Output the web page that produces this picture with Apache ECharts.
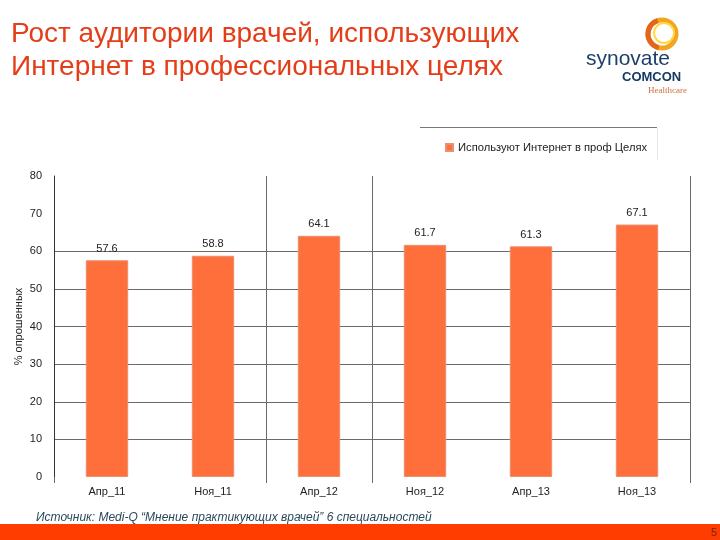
<!DOCTYPE html>
<html>
<head>
<meta charset="utf-8">
<script src="https://cdn.jsdelivr.net/npm/echarts@6/dist/echarts.min.js"></script>
<style>
html,body{margin:0;padding:0;background:#fff;}
#c{width:720px;height:540px;}
</style>
</head>
<body>
<div id="c"></div>
<script>
const categories = ['Апр_11', 'Ноя_11', 'Апр_12', 'Ноя_12', 'Апр_13', 'Ноя_13'];
const seriesName = 'Используют Интернет в проф Целях';
const values = [57.6, 58.8, 64.1, 61.7, 61.3, 67.1];
const yTicks = [0, 10, 20, 30, 40, 50, 60, 70, 80];
const titleLines = ['Рост аудитории врачей, использующих', 'Интернет в профессиональных целях'];
const sourceText = 'Источник: Medi-Q “Мнение практикующих врачей” 6 специальностей';
const pageNumber = '5';

const FONT = 'Liberation Sans, Arial, sans-serif';
const chart = echarts.init(document.getElementById('c'));

const gridColor = '#6a6a6a';
// horizontal split lines visible only 10..60
const hColors = yTicks.map(v => (v > 0 && v <= 60) ? gridColor : 'rgba(0,0,0,0)');
// vertical split lines visible at some category boundaries
const vVisible = [true, false, true, true, false, false, true];
const vColors = vVisible.map(b => b ? gridColor : 'rgba(0,0,0,0)');

chart.setOption({
  animation: false,
  textStyle: { fontFamily: FONT },
  grid: { left: 54, right: 30, top: 176, bottom: 63, containLabel: false },
  legend: {
    data: [seriesName],
    left: 440, top: 137,
    icon: 'rect', itemWidth: 7, itemHeight: 7, itemGap: 6,
    textStyle: { fontFamily: FONT, fontSize: 11.2, color: '#222' }
  },
  xAxis: {
    type: 'category',
    data: categories,
    axisLine: { show: false },
    axisTick: { show: true, length: 6, lineStyle: { color: gridColor },
      interval: function (i) { return vVisible[i] === true; } },
    axisLabel: { fontFamily: FONT, fontSize: 11, color: '#222', margin: 9 },
    splitLine: { show: true, lineStyle: { color: vColors, width: 1 } }
  },
  yAxis: {
    type: 'value',
    min: 0, max: 80, interval: 10,
    name: '% опрошенных',
    nameLocation: 'middle',
    nameGap: 30,
    nameMoveOverlap: false,
    nameRotate: 90,
    nameTextStyle: { fontFamily: FONT, fontSize: 11, color: '#222' },
    axisLine: { show: true, lineStyle: { color: '#333', width: 1 } },
    axisTick: { show: false },
    axisLabel: { fontFamily: FONT, fontSize: 11, color: '#222', margin: 12 },
    splitLine: { show: true, lineStyle: { color: hColors, width: 1 } }
  },
  series: [{
    name: seriesName,
    type: 'bar',
    data: values,
    barWidth: '40%',
    itemStyle: { color: '#FF6F3C', borderColor: '#E89070', borderWidth: 1 },
    label: { show: true, position: 'top', distance: 6, fontFamily: FONT, fontSize: 11, color: '#222',
      formatter: p => p.value.toFixed(1) }
  }],
  graphic: [
    { type: 'text', left: 11, top: 20, style: { text: titleLines[0], font: '28px ' + FONT, fill: '#E43D18' } },
    { type: 'text', left: 11, top: 53, style: { text: titleLines[1], font: '28px ' + FONT, fill: '#E43D18' } },
    // legend box lines
    { type: 'line', shape: { x1: 420, y1: 127.5, x2: 657, y2: 127.5 }, style: { stroke: '#777', lineWidth: 1 } },
    { type: 'line', shape: { x1: 657.5, y1: 128, x2: 657.5, y2: 160 }, style: { stroke: '#e4e4e4', lineWidth: 1 } },
    // logo ring
    { type: 'circle', shape: { cx: 662, cy: 34, r: 14 }, style: { fill: 'none', stroke: '#F2A51F', lineWidth: 5 } },
    { type: 'arc', shape: { cx: 662, cy: 34, r: 14, startAngle: 1.8, endAngle: 4.4 }, style: { fill: 'none', stroke: '#E2641E', lineWidth: 5 } },
    { type: 'circle', shape: { cx: 664, cy: 33, r: 10 }, style: { fill: 'none', stroke: '#FFD84A', lineWidth: 2 } },
    { type: 'text', left: 586, top: 49, style: { text: 'synovate', font: '21px ' + FONT, fill: '#1F3F68' } },
    { type: 'text', left: 622, top: 71, style: { text: 'COMCON', font: 'bold 13px ' + FONT, fill: '#153A63' } },
    { type: 'text', left: 648, top: 86, style: { text: 'Healthcare', font: '9px Liberation Serif, serif', fill: '#D0703A' } },
    // source
    { type: 'text', left: 36, top: 512, style: { text: sourceText, font: 'italic 12px ' + FONT, fill: '#2B4A5A' } },
    // bottom bar
    { type: 'rect', shape: { x: 0, y: 524, width: 720, height: 16 }, style: { fill: '#FF3D00' } },
    { type: 'text', right: 3, top: 527, style: { text: pageNumber, font: '11px ' + FONT, fill: '#7A2010' } }
  ]
});
</script>
</body>
</html>
